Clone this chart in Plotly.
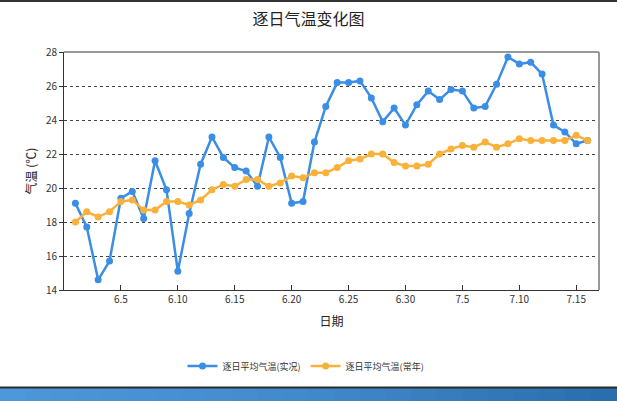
import plotly.graph_objects as go

# ---- data ----
day_index = list(range(1, 47))  # 6.1 .. 7.16
actual_temp = [19.1, 17.7, 14.6, 15.7, 19.4, 19.8, 18.2, 21.6, 19.9, 15.1,
               18.5, 21.4, 23.0, 21.8, 21.2, 21.0, 20.1, 23.0, 21.8, 19.1,
               19.2, 22.7, 24.8, 26.2, 26.2, 26.3, 25.3, 23.9, 24.7, 23.7,
               24.9, 25.7, 25.2, 25.8, 25.7, 24.7, 24.8, 26.1, 27.7, 27.3,
               27.4, 26.7, 23.7, 23.3, 22.6, 22.8]
normal_temp = [18.0, 18.6, 18.3, 18.6, 19.2, 19.3, 18.7, 18.7, 19.2, 19.2,
               19.0, 19.3, 19.9, 20.2, 20.1, 20.5, 20.5, 20.1, 20.3, 20.7,
               20.6, 20.9, 20.9, 21.2, 21.6, 21.7, 22.0, 22.0, 21.5, 21.3,
               21.3, 21.4, 22.0, 22.3, 22.5, 22.4, 22.7, 22.4, 22.6, 22.9,
               22.8, 22.8, 22.8, 22.8, 23.1, 22.8]
tick_vals = [5, 10, 15, 20, 25, 30, 35, 40, 45]
tick_text = ["6.5", "6.10", "6.15", "6.20", "6.25", "6.30", "7.5", "7.10", "7.15"]
y_ticks = [14, 16, 18, 20, 22, 24, 26, 28]

FONT = "Noto Sans CJK SC"
BLUE = "#3a8ee6"
ORANGE = "#f9b13a"

fig = go.Figure()
fig.add_trace(go.Scatter(
    x=day_index, y=actual_temp, mode="lines+markers",
    name="逐日平均气温(实况)",
    line=dict(color=BLUE, width=2.5),
    marker=dict(color=BLUE, size=7),
))
fig.add_trace(go.Scatter(
    x=day_index, y=normal_temp, mode="lines+markers",
    name="逐日平均气温(常年)",
    line=dict(color=ORANGE, width=2.5),
    marker=dict(color=ORANGE, size=7),
))


def px_to_px(xp):
    return (xp - 64) / 535.0


def py_to_py(yp):
    return (290 - yp) / 238.0


shapes = []
# top dark line of page
shapes.append(dict(type="line", xref="paper", yref="paper",
                   x0=px_to_px(-2), x1=px_to_px(620), y0=py_to_py(1), y1=py_to_py(1),
                   line=dict(color="#333333", width=2), layer="above"))
# plot frame: top line and right border
shapes.append(dict(type="line", xref="paper", yref="paper",
                   x0=0, x1=1, y0=1, y1=1, line=dict(color="#333333", width=1)))
shapes.append(dict(type="line", xref="paper", yref="paper",
                   x0=1, x1=1, y0=0, y1=1, line=dict(color="#999999", width=2)))
# bottom band with pseudo-gradient
n = 24
left = (0x4d, 0x98, 0xda)
mid = (0x43, 0x8a, 0xcd)
right = (0x2a, 0x6f, 0xad)
for i in range(n):
    t = i / (n - 1)
    if t < 0.5:
        a, b, u = left, mid, t / 0.5
    else:
        a, b, u = mid, right, (t - 0.5) / 0.5
    c = tuple(int(a[k] + (b[k] - a[k]) * u) for k in range(3))
    x0p = 617 * i / n
    x1p = 617 * (i + 1) / n + 1
    shapes.append(dict(type="rect", xref="paper", yref="paper",
                       x0=px_to_px(x0p), x1=px_to_px(x1p),
                       y0=py_to_py(402), y1=py_to_py(388),
                       fillcolor="rgb(%d,%d,%d)" % c, line=dict(width=0),
                       layer="above"))
shapes.append(dict(type="line", xref="paper", yref="paper",
                   x0=px_to_px(-2), x1=px_to_px(620),
                   y0=py_to_py(387.5), y1=py_to_py(387.5),
                   line=dict(color="#2b2b2b", width=2), layer="above"))

fig.update_layout(
    width=617, height=401,
    margin=dict(l=64, r=18, t=52, b=111, autoexpand=False),
    paper_bgcolor="white", plot_bgcolor="white",
    font=dict(family=FONT, color="#333333", size=10),
    title=dict(text="逐日气温变化图", x=0.5, xref="container", xanchor="center",
               y=1 - 19 / 401, yanchor="middle",
               font=dict(family=FONT, size=16, color="#222222")),
    xaxis=dict(range=[0, 47], tickmode="array", tickvals=tick_vals, ticktext=tick_text,
               ticks="inside", ticklen=5, tickcolor="#333333",
               showline=True, linecolor="#333333", linewidth=1,
               showgrid=False, zeroline=False, automargin=False,
               tickfont=dict(size=10, color="#333333"),
               title=dict(text="日期", font=dict(size=12, color="#222222"), standoff=12)),
    yaxis=dict(range=[14, 28], tickmode="array", tickvals=y_ticks,
               ticks="outside", ticklen=4, tickcolor="#333333",
               showline=True, linecolor="#333333", linewidth=1,
               showgrid=True, gridcolor="#444444", griddash="dot", gridwidth=1,
               zeroline=False, automargin=False,
               tickfont=dict(size=10, color="#333333"),
               title=dict(text="气温 (℃)", font=dict(size=12, color="#222222"), standoff=6)),
    legend=dict(orientation="h", x=px_to_px(306), xanchor="center", y=py_to_py(366), yanchor="middle",
                font=dict(size=9, color="#333333"), itemwidth=30,
                bgcolor="rgba(0,0,0,0)"),
    shapes=shapes,
    showlegend=True,
)

fig.write_html("out.html", config={"displayModeBar": False},
               post_script="document.body.style.margin='0';")
